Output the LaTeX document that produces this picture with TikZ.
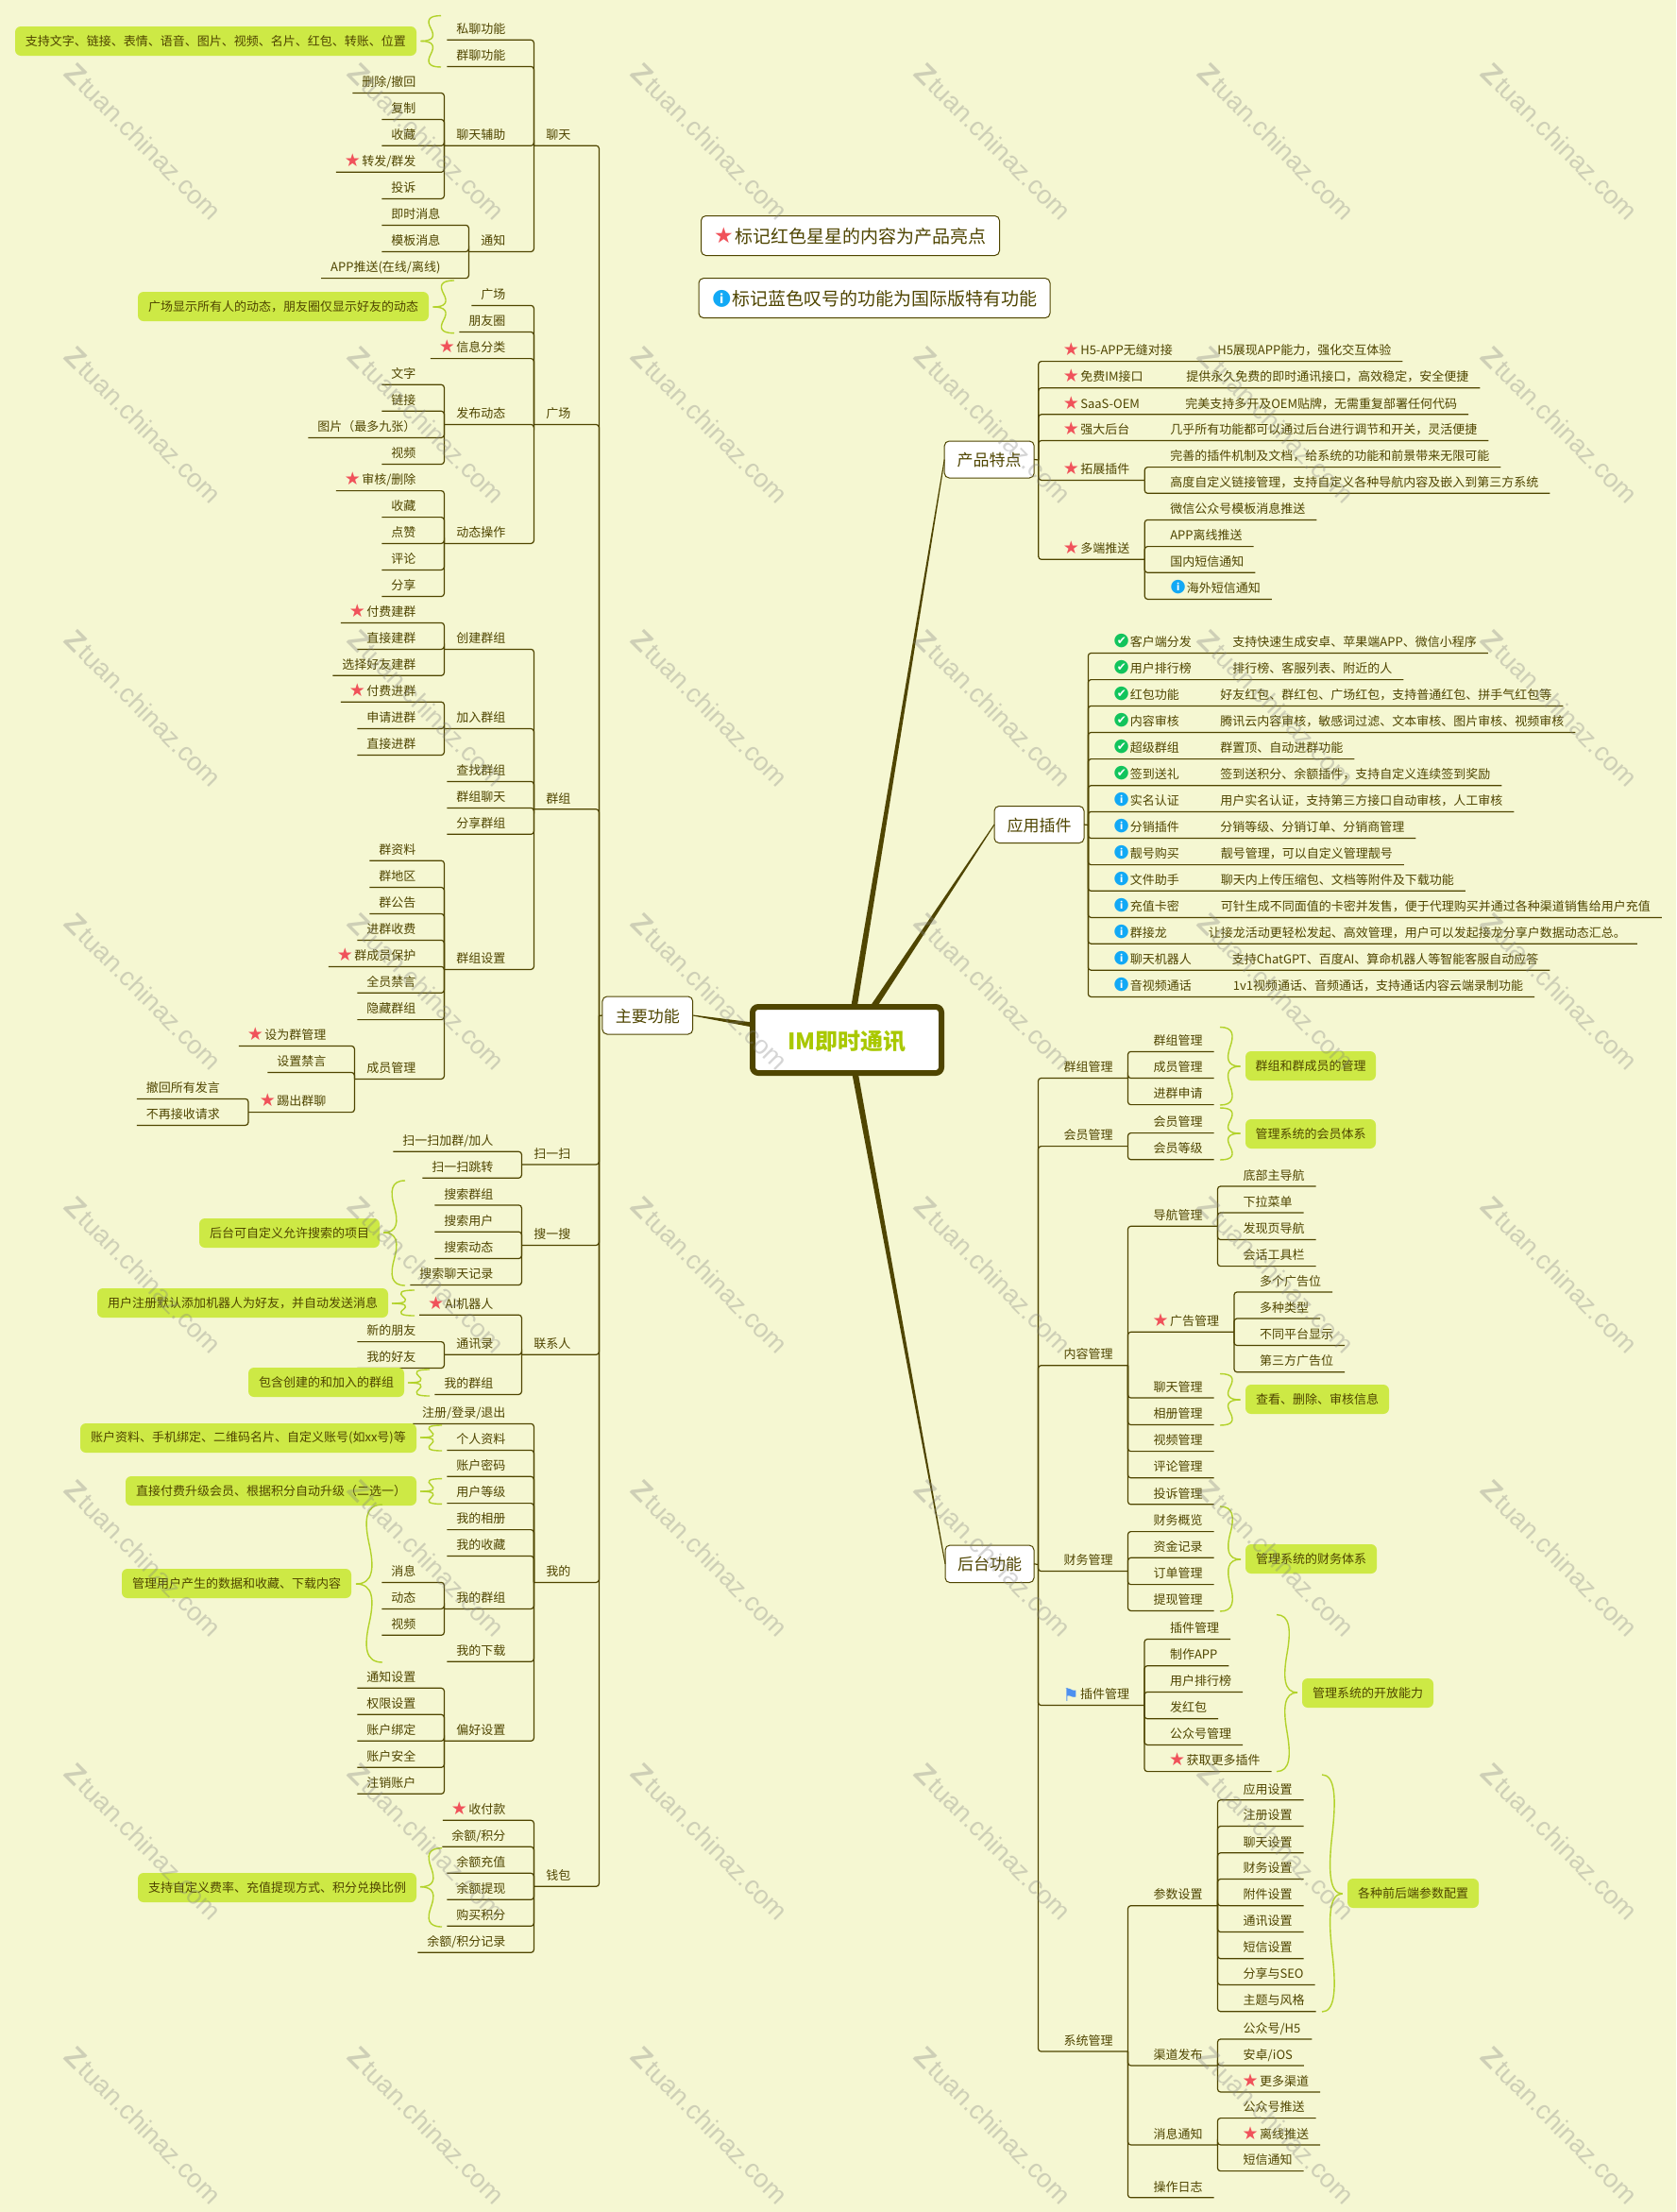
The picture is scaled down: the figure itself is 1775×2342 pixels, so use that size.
\documentclass[tikz,border=0pt]{standalone}
\usepackage{fontspec}
\setmainfont{Noto Sans CJK SC}
\newfontfamily\symf{DejaVu Sans}
\newfontfamily\wmf{Liberation Sans}
\usetikzlibrary{calc}
\definecolor{cbg}{HTML}{F5F7D2}
\definecolor{cline}{HTML}{4F4500}
\definecolor{cnote}{HTML}{CDE945}
\definecolor{cbrace}{HTML}{B2D22A}
\definecolor{cstar}{HTML}{F0525A}
\definecolor{cinfo}{HTML}{12A9F5}
\definecolor{cok}{HTML}{12C45C}
\definecolor{cflag}{HTML}{4D90F0}
\definecolor{ctitle}{HTML}{A9C800}
\newcommand\iStar{\makebox[17.5pt][l]{\hspace*{-1pt}\smash{\raisebox{-1pt}{\color{cstar}\symf\fontsize{19}{19}\selectfont ★}}}}
\newcommand\iInfo{\makebox[17.5pt][l]{\smash{\rlap{\raisebox{1.1pt}{\color{cinfo}\symf\fontsize{19}{19}\selectfont ●}}\hspace{6.7pt}\raisebox{2.1pt}{\color{white}\fontsize{10}{10}\selectfont\bfseries i}}}}
\newcommand\iOk{\makebox[17.5pt][l]{\smash{\rlap{\raisebox{1.1pt}{\color{cok}\symf\fontsize{19}{19}\selectfont ●}}\hspace{3.4pt}\raisebox{2pt}{\color{white}\symf\fontsize{12}{12}\selectfont ✔}}}}
\newcommand\iFlag{\makebox[17.5pt][l]{\hspace*{-1pt}\smash{\raisebox{-2.8pt}{\color{cflag}\symf\fontsize{19}{19}\selectfont ⚑}}}}
\newcommand\Two[2]{\makebox[#1pt][l]{#2}}
\tikzset{
  x=1pt,y=-1pt,
  tn/.style={inner sep=0pt,outer sep=0pt,text height=13pt,text depth=6.8pt,font=\fontsize{13}{13}\selectfont,text=cline},
  conn/.style={draw=cline,line width=1.2pt,rounded corners=3pt},
  barpt/.style={inner sep=0pt,outer sep=0pt,minimum size=0pt,text height=0pt,text depth=0pt,text width=0pt},
  boxn/.style={draw=cline,line width=1pt,fill=white,rounded corners=5pt,inner sep=0pt,outer sep=0pt,text height=14pt,text depth=0pt,text=cline,font=\fontsize{17}{17}\selectfont},
  legend/.style={draw=cline,line width=1pt,fill=white,rounded corners=5pt,inner sep=0pt,outer sep=0pt,text height=15pt,text depth=0pt,text=cline,font=\fontsize{19}{19}\selectfont},
  notebox/.style={fill=cnote,rounded corners=6pt,inner sep=0pt,text=cline,align=center,font=\fontsize{13}{13}\selectfont},
  brc/.style={draw=cbrace,line width=1.4pt},
  taper/.style={fill=cline},
  wm/.style={rotate=-45,text=gray,opacity=.33,font=\wmf\fontsize{27.5}{28}\selectfont,inner sep=0pt}
}
% left branch: leaf / branch with children
\newcommand\Lf[4]{\coordinate (tY) at (0,#3);\node[tn,anchor=south east] (#1) at (#2.south west |- tY) {\hspace*{10pt}#4\hspace*{30pt}};\draw[conn] (#1.south west) -- (#1.south east) -- (#2.south west);}
\newcommand\Lb[4]{\coordinate (tY) at (0,#3);\node[tn,anchor=south east] (#1) at (#2.south west |- tY) {\hspace*{13pt}#4\hspace*{30pt}};\draw[conn] (#1.south west) -- (#1.south east) -- (#2.south west);}
% right branch
\newcommand\Rf[4]{\coordinate (tY) at (0,#3);\node[tn,anchor=south west] (#1) at (#2.south east |- tY) {\hspace*{27pt}#4\hspace*{12pt}};\draw[conn] (#1.south east) -- (#1.south west) -- (#2.south east);}
\newcommand\Rb[4]{\coordinate (tY) at (0,#3);\node[tn,anchor=south west] (#1) at (#2.south east |- tY) {\hspace*{27pt}#4\hspace*{16pt}};\draw[conn] (#1.south east) -- (#1.south west) -- (#2.south east);}
% note box
\newcommand\Note[6]{\node[notebox,minimum width={#3-#2},minimum height={#5-#4}] (#1) at ({(#2+#3)/2},{(#4+#5)/2}) {#6};}
% summary brace: end x, tip x, top, centre, bottom
\newcommand\Hb[4]{(#1,#3) .. controls ({#2+.35*(#1-#2)},{#3}) and ({#2+.3*(#1-#2)},{#3+.2*(#4-#3)}) .. ({#2+.5*(#1-#2)},{#3+.5*(#4-#3)}) .. controls ({#2+.7*(#1-#2)},{#3+.8*(#4-#3)}) and ({#2+.65*(#1-#2)},{#4}) .. (#2,#4)}
\newcommand\Sm[5]{\draw[brc] \Hb{#1}{#2}{#3}{#4};\draw[brc] \Hb{#1}{#2}{#5}{#4};}
\newcommand\Tp[3]{\fill[taper] ($(#1)!#3!90:(#2)$) -- ($(#1)!#3!-90:(#2)$) -- ($(#2)!.5pt!90:(#1)$) -- ($(#2)!.5pt!-90:(#1)$) -- cycle;}
\begin{document}
\begin{tikzpicture}
\useasboundingbox (0,0) rectangle (1775,2342);
\fill[cbg] (0,0) rectangle (1775,2342);

% ---------- centre ----------
\node[draw=cline,line width=6pt,fill=white,rounded corners=6pt,inner sep=0pt,outer sep=0pt,minimum width=200pt,minimum height=70pt,text height=21pt,text depth=0pt,text=ctitle,font=\fontsize{24}{24}\selectfont\bfseries] (root) at (897,1101) {IM即时通讯};
\node[boxn,minimum width=95.7pt,minimum height=40pt] (zy) at (685.8,1075) {主要功能};
\node[boxn,minimum width=95pt,minimum height=39pt] (tz) at (1047.7,486.5) {产品特点};
\node[boxn,minimum width=95pt,minimum height=39pt] (yy) at (1100.5,873) {应用插件};
\node[boxn,minimum width=94pt,minimum height=39.6pt] (ht) at (1048,1655.8) {后台功能};
\node[barpt] (mb) at (634.4,1075.4) {};
\node[barpt] (tzb) at (1099.8,487) {};
\node[barpt] (yyb) at (1152.4,873.5) {};
\node[barpt] (htb) at (1099.5,1656.5) {};
\draw[conn] (zy.west) -- (mb);
\draw[conn] (tz.east) -- (tzb);
\draw[conn] (yy.east) -- (yyb);
\draw[conn] (ht.east) -- (htb);
\coordinate (r1) at ([xshift=7.5pt]root.north);
\coordinate (r2) at ([xshift=28pt]root.north);
\coordinate (r3) at ([xshift=8.5pt]root.south);
\coordinate (r4) at ([yshift=16pt]root.west);
\Tp{r1}{tz.west}{3.2pt}
\Tp{r2}{yy.west}{3.2pt}
\Tp{r3}{ht.west}{3.2pt}
\Tp{r4}{zy.east}{2.5pt}

% ---------- legend ----------
\node[legend,minimum width=316pt,minimum height=42pt] (lg1) at (900.5,249.5) {\makebox[21pt][l]{\hspace*{-1pt}\smash{\color{cstar}\symf\fontsize{23}{23}\selectfont ★}}标记红色星星的内容为产品亮点};
\node[legend,minimum width=372pt,minimum height=42pt] (lg2) at (926,315.6) {\makebox[21pt][l]{\smash{\rlap{\raisebox{1.1pt}{\color{cinfo}\symf\fontsize{23.5}{24}\selectfont ●}}\hspace{8pt}\raisebox{2pt}{\color{white}\fontsize{13}{13}\selectfont\bfseries i}}}标记蓝色叹号的功能为国际版特有功能};

% ---------- left: chat ----------
\Lb{lt}{mb}{154.2}{聊天}
\Lf{lt1}{lt}{42.3}{私聊功能}
\Lf{lt2}{lt}{70.4}{群聊功能}
\Lb{lt3}{lt}{154.3}{聊天辅助}
\Lf{lt31}{lt3}{98.5}{删除/撤回}
\Lf{lt32}{lt3}{126.5}{复制}
\Lf{lt33}{lt3}{154.3}{收藏}
\Lf{lt34}{lt3}{182.3}{\iStar 转发/群发}
\Lf{lt35}{lt3}{210.4}{投诉}
\Lb{lt4}{lt}{266.5}{通知}
\Lf{lt41}{lt4}{238.4}{即时消息}
\Lf{lt42}{lt4}{266.5}{模板消息}
\Lf{lt43}{lt4}{294.6}{APP推送(在线/离线)}
% plaza
\Lb{gc}{mb}{449.5}{广场}
\Lf{gc1}{gc}{323.4}{广场}
\Lf{gc2}{gc}{351.5}{朋友圈}
\Lf{gc3}{gc}{379.6}{\iStar 信息分类}
\Lb{gc4}{gc}{449.4}{发布动态}
\Lf{gc41}{gc4}{407.3}{文字}
\Lf{gc42}{gc4}{435.3}{链接}
\Lf{gc43}{gc4}{463.4}{图片（最多九张）}
\Lf{gc44}{gc4}{491.5}{视频}
\Lb{gc5}{gc}{575.4}{动态操作}
\Lf{gc51}{gc5}{519.6}{\iStar 审核/删除}
\Lf{gc52}{gc5}{547.6}{收藏}
\Lf{gc53}{gc5}{575.4}{点赞}
\Lf{gc54}{gc5}{603.4}{评论}
\Lf{gc55}{gc5}{631.5}{分享}
% groups
\Lb{qz}{mb}{856.8}{群组}
\Lb{qz1}{qz}{687.4}{创建群组}
\Lf{qz11}{qz1}{659.4}{\iStar 付费建群}
\Lf{qz12}{qz1}{687.4}{直接建群}
\Lf{qz13}{qz1}{715.3}{选择好友建群}
\Lb{qz2}{qz}{771.5}{加入群组}
\Lf{qz21}{qz2}{743.2}{\iStar 付费进群}
\Lf{qz22}{qz2}{771.5}{申请进群}
\Lf{qz23}{qz2}{799.5}{直接进群}
\Lf{qz3}{qz}{827.4}{查找群组}
\Lf{qz4}{qz}{855.4}{群组聊天}
\Lf{qz5}{qz}{883.3}{分享群组}
\Lb{qz6}{qz}{1026.4}{群组设置}
\Lf{qz61}{qz6}{911.2}{群资料}
\Lf{qz62}{qz6}{939.5}{群地区}
\Lf{qz63}{qz6}{967.5}{群公告}
\Lf{qz64}{qz6}{995.4}{进群收费}
\Lf{qz65}{qz6}{1023.4}{\iStar 群成员保护}
\Lf{qz66}{qz6}{1051.3}{全员禁言}
\Lf{qz67}{qz6}{1079.6}{隐藏群组}
\Lb{qz68}{qz6}{1142.4}{成员管理}
\Lf{qz681}{qz68}{1107.5}{\iStar 设为群管理}
\Lf{qz682}{qz68}{1135.5}{设置禁言}
\Lb{qz683}{qz68}{1177.6}{\iStar 踢出群聊}
\Lf{qz6831}{qz683}{1163.4}{撤回所有发言}
\Lf{qz6832}{qz683}{1191.4}{不再接收请求}
% scan
\Lb{sm}{mb}{1233}{扫一扫}
\Lf{sm1}{sm}{1219.3}{扫一扫加群/加人}
\Lf{sm2}{sm}{1247.2}{扫一扫跳转}
% search
\Lb{ss}{mb}{1318.4}{搜一搜}
\Lf{ss1}{ss}{1275.9}{搜索群组}
\Lf{ss2}{ss}{1304.2}{搜索用户}
\Lf{ss3}{ss}{1332.5}{搜索动态}
\Lf{ss4}{ss}{1360.5}{搜索聊天记录}
% contacts
\Lb{lx}{mb}{1434.3}{联系人}
\Lf{lx1}{lx}{1392.2}{\iStar AI机器人}
\Lb{lx2}{lx}{1434.3}{通讯录}
\Lf{lx21}{lx2}{1420.6}{新的朋友}
\Lf{lx22}{lx2}{1448.5}{我的好友}
\Lf{lx3}{lx}{1476.4}{我的群组}
% mine
\Lb{wd}{mb}{1675.4}{我的}
\Lf{wd1}{wd}{1507.4}{注册/登录/退出}
\Lf{wd2}{wd}{1535.4}{个人资料}
\Lf{wd3}{wd}{1563.3}{账户密码}
\Lf{wd4}{wd}{1591.6}{用户等级}
\Lf{wd5}{wd}{1619.6}{我的相册}
\Lf{wd6}{wd}{1647.5}{我的收藏}
\Lb{wd7}{wd}{1703.4}{我的群组}
\Lf{wd71}{wd7}{1675.4}{消息}
\Lf{wd72}{wd7}{1703.4}{动态}
\Lf{wd73}{wd7}{1731.3}{视频}
\Lf{wd8}{wd}{1759.3}{我的下载}
\Lb{wd9}{wd}{1843.3}{偏好设置}
\Lf{wd91}{wd9}{1787.3}{通知设置}
\Lf{wd92}{wd9}{1815.3}{权限设置}
\Lf{wd93}{wd9}{1843.3}{账户绑定}
\Lf{wd94}{wd9}{1871.3}{账户安全}
\Lf{wd95}{wd9}{1899.3}{注销账户}
% wallet
\Lb{qb}{mb}{1997.3}{钱包}
\Lf{qb1}{qb}{1927.3}{\iStar 收付款}
\Lf{qb2}{qb}{1955.3}{余额/积分}
\Lf{qb3}{qb}{1983.3}{余额充值}
\Lf{qb4}{qb}{2011.3}{余额提现}
\Lf{qb5}{qb}{2039.3}{购买积分}
\Lf{qb6}{qb}{2067.3}{余额/积分记录}

% ---------- right: product ----------
\Rf{tz1}{tzb}{382.6}{\iStar\Two{145}{H5-APP无缝对接}H5展现APP能力，强化交互体验}
\Rf{tz2}{tzb}{410.7}{\iStar\Two{112}{免费IM接口}提供永久免费的即时通讯接口，高效稳定，安全便捷}
\Rf{tz3}{tzb}{438.8}{\iStar\Two{111}{SaaS-OEM}完美支持多开及OEM贴牌，无需重复部署任何代码}
\Rf{tz4}{tzb}{466.5}{\iStar\Two{95}{强大后台}几乎所有功能都可以通过后台进行调节和开关，灵活便捷}
\Rb{tz5}{tzb}{508.4}{\iStar 拓展插件}
\Rf{tz51}{tz5}{494.6}{完善的插件机制及文档，给系统的功能和前景带来无限可能}
\Rf{tz52}{tz5}{522.3}{高度自定义链接管理，支持自定义各种导航内容及嵌入到第三方系统}
\Rb{tz6}{tzb}{592.3}{\iStar 多端推送}
\Rf{tz61}{tz6}{550.4}{微信公众号模板消息推送}
\Rf{tz62}{tz6}{578.6}{APP离线推送}
\Rf{tz63}{tz6}{606.3}{国内短信通知}
\Rf{tz64}{tz6}{634.4}{\iInfo 海外短信通知}
% ---------- plugins ----------
\Rf{yy1}{yyb}{691.5}{\iOk\Two{108.5}{客户端分发}支持快速生成安卓、苹果端APP、微信小程序}
\Rf{yy2}{yyb}{719.6}{\iOk\Two{108.5}{用户排行榜}排行榜、客服列表、附近的人}
\Rf{yy3}{yyb}{747.4}{\iOk\Two{95.5}{红包功能}好友红包、群红包、广场红包，支持普通红包、拼手气红包等}
\Rf{yy4}{yyb}{775.5}{\iOk\Two{95.5}{内容审核}腾讯云内容审核，敏感词过滤、文本审核、图片审核、视频审核}
\Rf{yy5}{yyb}{803.6}{\iOk\Two{95.5}{超级群组}群置顶、自动进群功能}
\Rf{yy6}{yyb}{831.7}{\iOk\Two{95.5}{签到送礼}签到送积分、余额插件，支持自定义连续签到奖励}
\Rf{yy7}{yyb}{859.4}{\iInfo\Two{95.5}{实名认证}用户实名认证，支持第三方接口自动审核，人工审核}
\Rf{yy8}{yyb}{887.5}{\iInfo\Two{95.5}{分销插件}分销等级、分销订单、分销商管理}
\Rf{yy9}{yyb}{915.6}{\iInfo\Two{96}{靓号购买}靓号管理，可以自定义管理靓号}
\Rf{yy10}{yyb}{943.3}{\iInfo\Two{96}{文件助手}聊天内上传压缩包、文档等附件及下载功能}
\Rf{yy11}{yyb}{971.4}{\iInfo\Two{96}{充值卡密}可针生成不同面值的卡密并发售，便于代理购买并通过各种渠道销售给用户充值}
\Rf{yy12}{yyb}{999.2}{\iInfo\Two{83}{群接龙}让接龙活动更轻松发起、高效管理，用户可以发起接龙分享户数据动态汇总。}
\Rf{yy13}{yyb}{1027.2}{\iInfo\Two{108}{聊天机器人}支持ChatGPT、百度AI、算命机器人等智能客服自动应答}
\Rf{yy14}{yyb}{1055.4}{\iInfo\Two{109}{音视频通话}1v1视频通话、音频通话，支持通话内容云端录制功能}
% ---------- backend ----------
\Rb{ht1}{htb}{1141.5}{群组管理}
\Rf{ht11}{ht1}{1113.4}{群组管理}
\Rf{ht12}{ht1}{1141.5}{成员管理}
\Rf{ht13}{ht1}{1169.6}{进群申请}
\Rb{ht2}{htb}{1213.6}{会员管理}
\Rf{ht21}{ht2}{1199.6}{会员管理}
\Rf{ht22}{ht2}{1227.7}{会员等级}
\Rb{ht3}{htb}{1445.7}{内容管理}
\Rb{ht31}{ht3}{1298.3}{导航管理}
\Rf{ht311}{ht31}{1256}{底部主导航}
\Rf{ht312}{ht31}{1284}{下拉菜单}
\Rf{ht313}{ht31}{1312.5}{发现页导航}
\Rf{ht314}{ht31}{1340.6}{会话工具栏}
\Rb{ht32}{ht3}{1410.3}{\iStar 广告管理}
\Rf{ht321}{ht32}{1368}{多个广告位}
\Rf{ht322}{ht32}{1396}{多种类型}
\Rf{ht323}{ht32}{1424.5}{不同平台显示}
\Rf{ht324}{ht32}{1452.7}{第三方广告位}
\Rf{ht33}{ht3}{1480}{聊天管理}
\Rf{ht34}{ht3}{1508.5}{相册管理}
\Rf{ht35}{ht3}{1536.6}{视频管理}
\Rf{ht36}{ht3}{1564.7}{评论管理}
\Rf{ht37}{ht3}{1592.8}{投诉管理}
\Rb{ht4}{htb}{1663.5}{财务管理}
\Rf{ht41}{ht4}{1621.6}{财务概览}
\Rf{ht42}{ht4}{1649.3}{资金记录}
\Rf{ht43}{ht4}{1677.6}{订单管理}
\Rf{ht44}{ht4}{1705.4}{提现管理}
\Rb{ht5}{htb}{1805.5}{\iFlag 插件管理}
\Rf{ht51}{ht5}{1735.5}{插件管理}
\Rf{ht52}{ht5}{1763.7}{制作APP}
\Rf{ht53}{ht5}{1791.4}{用户排行榜}
\Rf{ht54}{ht5}{1819.7}{发红包}
\Rf{ht55}{ht5}{1847.4}{公众号管理}
\Rf{ht56}{ht5}{1875.6}{\iStar 获取更多插件}
\Rb{ht6}{htb}{2172}{系统管理}
\Rb{ht61}{ht6}{2017.7}{参数设置}
\Rf{ht611}{ht61}{1905.8}{应用设置}
\Rf{ht612}{ht61}{1933.5}{注册设置}
\Rf{ht613}{ht61}{1961.8}{聊天设置}
\Rf{ht614}{ht61}{1989.5}{财务设置}
\Rf{ht615}{ht61}{2017.7}{附件设置}
\Rf{ht616}{ht61}{2045.5}{通讯设置}
\Rf{ht617}{ht61}{2073.7}{短信设置}
\Rf{ht618}{ht61}{2101.5}{分享与SEO}
\Rf{ht619}{ht61}{2129.7}{主题与风格}
\Rb{ht62}{ht6}{2186.9}{渠道发布}
\Rf{ht621}{ht62}{2159}{公众号/H5}
\Rf{ht622}{ht62}{2186.9}{安卓/iOS}
\Rf{ht623}{ht62}{2214.9}{\iStar 更多渠道}
\Rb{ht63}{ht6}{2270.9}{消息通知}
\Rf{ht631}{ht63}{2242.6}{公众号推送}
\Rf{ht632}{ht63}{2270.9}{\iStar 离线推送}
\Rf{ht633}{ht63}{2298.6}{短信通知}
\Rf{ht64}{ht6}{2326.8}{操作日志}

% ---------- notes and braces ----------
\Note{n1}{16}{441}{28}{59}{支持文字、链接、表情、语音、图片、视频、名片、红包、转账、位置}
\Sm{467}{445.5}{16.6}{43.5}{71}
\Note{n2}{146}{454}{309}{340}{广场显示所有人的动态，朋友圈仅显示好友的动态}
\Sm{481}{458.5}{297}{325}{352.7}
\Note{n3}{211}{402}{1290}{1321}{后台可自定义允许搜索的项目}
\Sm{429}{406}{1250}{1305}{1361}
\Note{n4}{103}{411}{1364}{1395}{用户注册默认添加机器人为好友，并自动发送消息}
\Sm{439}{415}{1366}{1380}{1393}
\Note{n5}{263}{428}{1448}{1479}{包含创建的和加入的群组}
\Sm{455}{432}{1450}{1464}{1478}
\Note{n6}{85}{441}{1507}{1538}{账户资料、手机绑定、二维码名片、自定义账号(如xx号)等}
\Sm{468}{445}{1509}{1522}{1536}
\Note{n7}{133}{441}{1563}{1594}{直接付费升级会员、根据积分自动升级（二选一）}
\Sm{468}{445}{1565.6}{1579}{1592.4}
\Note{n8}{129}{372}{1661}{1692}{管理用户产生的数据和收藏、下载内容}
\Sm{405}{377}{1593}{1677}{1760}
\Note{n9}{146}{441}{1983}{2014}{支持自定义费率、充值提现方式、积分兑换比例}
\Sm{468}{445}{1956.7}{1997.7}{2040}
\Note{n10}{1319}{1457}{1113}{1144}{群组和群成员的管理}
\Sm{1292}{1313.6}{1087.5}{1129}{1170}
\Note{n11}{1319}{1457}{1185}{1216}{管理系统的会员体系}
\Sm{1292}{1313.6}{1173}{1200}{1228}
\Note{n12}{1319}{1471}{1466}{1497}{查看、删除、审核信息}
\Sm{1292}{1313.6}{1454.5}{1482}{1509}
\Note{n13}{1319}{1458}{1635}{1666}{管理系统的财务体系}
\Sm{1292}{1314}{1595}{1651}{1706}
\Note{n14}{1379}{1518}{1777}{1808}{管理系统的开放能力}
\Sm{1352}{1374}{1709.6}{1792}{1875.6}
\Note{n15}{1427}{1566}{1989}{2020}{各种前后端参数配置}
\Sm{1400}{1421.7}{1879}{2005}{2130}

% ---------- watermark ----------
\foreach \i in {0,...,5}{\foreach \j in {0,...,7}{
  \node[wm] (w\i-\j) at ({152+300*\i},{150+300*\j}) {{\fontsize{30}{30}\selectfont\bfseries Z}\hspace{2pt}tuan.chinaz.com};
}}
\end{tikzpicture}
\end{document}
